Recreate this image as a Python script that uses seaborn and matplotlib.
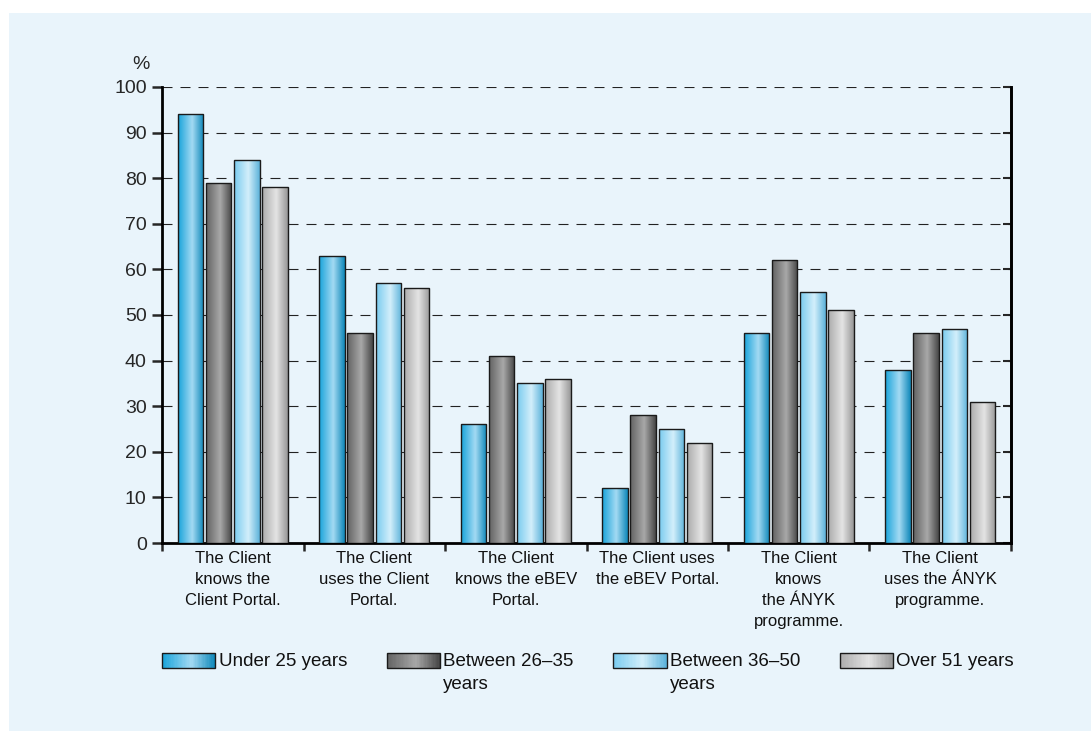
import numpy as np
import pandas as pd
import matplotlib
matplotlib.use("Agg")
import matplotlib.pyplot as plt
import seaborn as sns
from matplotlib.colors import LinearSegmentedColormap
from matplotlib.patches import Rectangle
from matplotlib.legend_handler import HandlerBase

# ---------------- data ----------------
categories = [
    "The Client\nknows the\nClient Portal.",
    "The Client\nuses the Client\nPortal.",
    "The Client\nknows the eBEV\nPortal.",
    "The Client uses\nthe eBEV Portal.",
    "The Client\nknows\nthe ÁNYK\nprogramme.",
    "The Client\nuses the ÁNYK\nprogramme.",
]
groups = ["Under 25 years", "Between 26–35 years", "Between 36–50 years", "Over 51 years"]
legend_labels = ["Under 25 years", "Between 26–35\nyears", "Between 36–50\nyears", "Over 51 years"]
under_25 = [94, 63, 26, 12, 46, 38]
between_26_35 = [79, 46, 41, 28, 62, 46]
between_36_50 = [84, 57, 35, 25, 55, 47]
over_51 = [78, 56, 36, 22, 51, 31]
y_ticks = list(range(0, 101, 10))

# gradient stops (left, centre, right) per series
gradients = [
    ["#17a3da", "#a3daf3", "#0c86b8"],
    ["#626262", "#a8a8a8", "#454545"],
    ["#78cbef", "#d3effb", "#5bb2da"],
    ["#ababab", "#e4e4e4", "#979797"],
]
mid_colors = [g[1] for g in gradients]

df = pd.DataFrame({
    "category": categories * 4,
    "group": sum([[g] * len(categories) for g in groups], []),
    "value": under_25 + between_26_35 + between_36_50 + over_51,
})

# ---------------- style ----------------
sns.set_style("ticks")
plt.rcParams["font.family"] = ["Liberation Sans", "DejaVu Sans"]

BG = "#e9f4fb"
fig = plt.figure(figsize=(10.91, 7.31), dpi=100, facecolor="white")
fig.patches.append(Rectangle((9 / 1091, 0), 1, 1 - 13 / 731, transform=fig.transFigure,
                             facecolor=BG, edgecolor="none", zorder=-10))
ax = fig.add_axes([162 / 1091, 1 - 543 / 731, (1011 - 162) / 1091, (543 - 87) / 731])
ax.set_facecolor("none")

sns.barplot(data=df, x="category", y="value", hue="group", hue_order=groups,
            order=categories, palette=mid_colors, gap=0.1, width=0.8,
            edgecolor="#1a1a1a", linewidth=1.0, legend=False, ax=ax, zorder=3)

ax.set_xlim(-0.5, len(categories) - 0.5)
ax.set_ylim(0, 100)

# gradient fill of bars
cmaps = [LinearSegmentedColormap.from_list(f"g{i}", list(zip([0, 0.55, 1], g)))
         for i, g in enumerate(gradients)]
grad = np.linspace(0, 1, 256).reshape(1, -1)
for cont, cmap in zip(ax.containers, cmaps):
    for p in cont.patches:
        x0, y0 = p.get_x(), p.get_y()
        w, h = p.get_width(), p.get_height()
        im = ax.imshow(grad, cmap=cmap, extent=(x0, x0 + w, y0, y0 + h), aspect="auto",
                       origin="lower", interpolation="bilinear", zorder=3)
        im.set_clip_path(p)
        p.set_facecolor("none")
        p.set_zorder(4)
ax.set_xlim(-0.5, len(categories) - 0.5)
ax.set_ylim(0, 100)
ax.set_aspect("auto")

# grid
ax.set_axisbelow(True)
ax.yaxis.grid(True, color="#222222", linewidth=0.8, linestyle=(0, (9, 7.2)))
ax.xaxis.grid(False)

# spines
for s in ["left", "bottom", "right"]:
    ax.spines[s].set_visible(True)
    ax.spines[s].set_linewidth(2)
    ax.spines[s].set_color("black")
ax.spines["top"].set_visible(False)

# y axis
ax.set_yticks(y_ticks)
ax.set_yticklabels([str(v) for v in y_ticks], fontsize=14)
ax.tick_params(axis="y", direction="out", length=7, width=1.8, pad=4, left=True, right=False)
sec = ax.secondary_yaxis("right")
sec.set_yticks(y_ticks)
sec.tick_params(axis="y", direction="in", length=6, width=1.5, labelright=False)
sec.spines["right"].set_linewidth(2)

ax.set_ylabel("%", rotation=0, fontsize=14, ha="center", va="center")
ax.yaxis.set_label_coords(-0.025, 1.05)

# x axis
ax.set_xlabel("")
ax.set_xticks(range(len(categories)))
ax.set_xticklabels(categories, fontsize=12, linespacing=1.48, va="top", color="#111111")
ax.set_xticks(np.arange(-0.5, len(categories), 1.0), minor=True)
ax.tick_params(axis="x", which="major", length=0, pad=6)
ax.tick_params(axis="x", which="minor", direction="out", length=6, width=1.8)


# legend with gradient handles
class GradHandler(HandlerBase):
    def __init__(self, cmap):
        super().__init__()
        self.cmap = cmap

    def create_artists(self, legend, orig_handle, xdescent, ydescent, width, height, fontsize, trans):
        n = 40
        arts = []
        for i in range(n):
            arts.append(Rectangle((-xdescent + width * i / n, -ydescent), width / n * 1.1, height,
                                  facecolor=self.cmap((i + 0.5) / n), edgecolor="none",
                                  transform=trans))
        arts.append(Rectangle((-xdescent, -ydescent), width, height, facecolor="none",
                              edgecolor="#1a1a1a", linewidth=1.0, transform=trans))
        return arts


handles = [Rectangle((0, 0), 1, 1) for _ in groups]
hmap = {h: GradHandler(c) for h, c in zip(handles, cmaps)}
leg = fig.legend(handles, legend_labels, handler_map=hmap, ncol=4, frameon=False,
                 loc="upper left", bbox_to_anchor=(162 / 1091, 1 - 653 / 731),
                 borderpad=0, borderaxespad=0, handlelength=2.85, handleheight=0.85,
                 handletextpad=0.18, columnspacing=2.1,
                 prop={"size": 13.5})
for t in leg.get_texts():
    t.set_linespacing(1.47)
    t.set_color("#111111")
leg._legend_handle_box.align = "top"
for col in leg._legend_handle_box.get_children():
    for entry in col.get_children():
        entry.align = "top"

fig.savefig("out.png", dpi=100, facecolor=fig.get_facecolor())
